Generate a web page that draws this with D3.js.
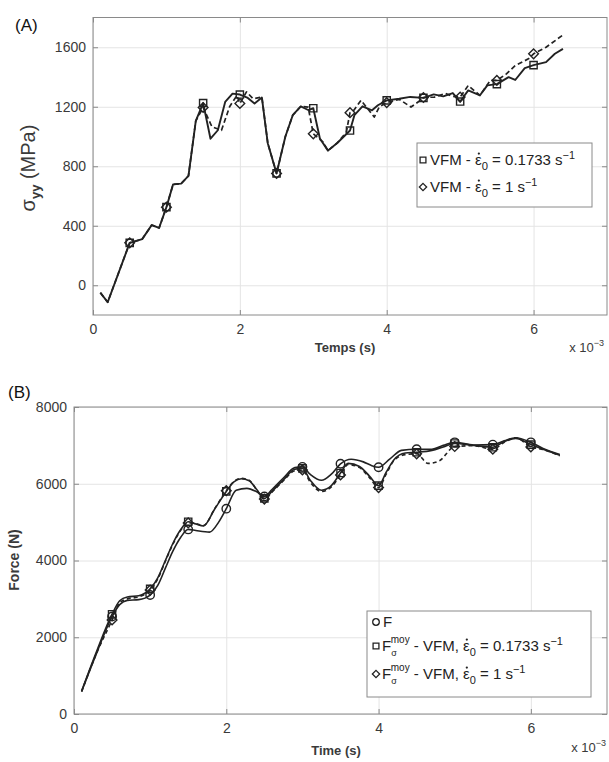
<!DOCTYPE html>
<html>
<head>
<meta charset="utf-8">
<script src="https://cdn.jsdelivr.net/npm/d3@7/dist/d3.min.js"></script>
<style>
  html, body { margin: 0; padding: 0; background: #fff; }
  svg { display: block; font-family: Arial, "Liberation Sans", Helvetica, sans-serif; }
</style>
</head>
<body>
<svg id="fig" width="609" height="762"></svg>
<script>
// ---- Panel A: stress sigma_yy (MPa) vs time (ms) ----
const timeA_slow = [0.1, 0.2, 0.5, 0.67, 0.8, 0.9, 1.0, 1.09, 1.2, 1.3, 1.4, 1.5, 1.6, 1.7, 1.8, 1.9, 2.0, 2.1, 2.2, 2.3, 2.38, 2.5, 2.62, 2.72, 2.83, 2.93, 3.0, 3.09, 3.2, 3.33, 3.5, 3.56, 3.67, 3.8, 3.88, 4.0, 4.17, 4.32, 4.5, 4.64, 4.77, 4.9, 5.0, 5.11, 5.27, 5.37, 5.5, 5.66, 5.75, 5.88, 6.0, 6.17, 6.29, 6.4];
const stressA_slow = [-50, -114, 285, 310, 405, 385, 525, 678, 683, 735, 1105, 1225, 985, 1042, 1232, 1288, 1282, 1262, 1222, 1262, 955, 752, 1000, 1143, 1203, 1178, 1190, 987, 905, 958, 1040, 1143, 1203, 1176, 1210, 1243, 1254, 1266, 1260, 1283, 1270, 1292, 1235, 1310, 1277, 1344, 1352, 1399, 1380, 1460, 1480, 1500, 1556, 1589];

const timeA_fast = [0.1, 0.2, 0.5, 0.67, 0.8, 0.9, 1.0, 1.09, 1.2, 1.3, 1.4, 1.5, 1.62, 1.75, 1.86, 1.96, 2.0, 2.09, 2.18, 2.3, 2.38, 2.5, 2.62, 2.72, 2.83, 2.93, 3.0, 3.13, 3.2, 3.33, 3.45, 3.5, 3.55, 3.65, 3.72, 3.83, 3.9, 4.0, 4.17, 4.33, 4.45, 4.5, 4.65, 4.8, 4.9, 5.0, 5.11, 5.27, 5.41, 5.5, 5.63, 5.75, 5.93, 6.0, 6.17, 6.39];
const stressA_fast = [-50, -114, 285, 310, 405, 385, 525, 678, 683, 735, 1105, 1195, 1065, 1042, 1200, 1276, 1222, 1300, 1254, 1265, 955, 752, 1000, 1143, 1203, 1198, 1018, 964, 905, 958, 1030, 1160, 1175, 1243, 1200, 1131, 1200, 1228, 1250, 1198, 1240, 1262, 1265, 1290, 1270, 1265, 1343, 1276, 1377, 1377, 1421, 1477, 1522, 1556, 1600, 1679];

const xTicksA = [0, 2, 4, 6];
const yTicksA = [0, 400, 800, 1200, 1600];

// ---- Panel B: force (N) vs time (ms) ----
const timeB_F = [0.1, 0.3, 0.5, 0.6, 0.7, 0.85, 1.0, 1.1, 1.2, 1.3, 1.4, 1.5, 1.6, 1.78, 1.9, 2.0, 2.13, 2.27, 2.4, 2.5, 2.6, 2.75, 2.9, 3.0, 3.1, 3.25, 3.38, 3.5, 3.64, 3.8, 3.9, 4.0, 4.15, 4.3, 4.5, 4.7, 4.85, 5.0, 5.25, 5.5, 5.65, 5.8, 6.0, 6.16, 6.38];
const forceB_F = [590, 1600, 2540, 2850, 2960, 2980, 3100, 3350, 3800, 4250, 4600, 4810, 4780, 4740, 5000, 5350, 5830, 5880, 5790, 5670, 5850, 6150, 6420, 6440, 6250, 6090, 6250, 6520, 6640, 6570, 6480, 6430, 6650, 6870, 6900, 6900, 7000, 7080, 7010, 7020, 7120, 7200, 7080, 6920, 6760];

const timeB_slow = [0.1, 0.3, 0.5, 0.6, 0.7, 0.85, 1.0, 1.1, 1.2, 1.3, 1.4, 1.5, 1.6, 1.7, 1.85, 2.0, 2.1, 2.2, 2.3, 2.4, 2.5, 2.6, 2.75, 2.9, 3.0, 3.1, 3.25, 3.38, 3.5, 3.6, 3.75, 3.88, 4.0, 4.1, 4.2, 4.35, 4.5, 4.7, 4.85, 5.0, 5.25, 5.5, 5.65, 5.8, 6.0, 6.16, 6.38];
const forceB_slow = [600, 1650, 2600, 2950, 3050, 3080, 3260, 3550, 4000, 4450, 4800, 5010, 4950, 4900, 5350, 5800, 6050, 6130, 6080, 5850, 5620, 5800, 6100, 6380, 6400, 6100, 5830, 5950, 6280, 6530, 6450, 6200, 5950, 6300, 6620, 6800, 6820, 6870, 6960, 7050, 7000, 6950, 7100, 7180, 7020, 6900, 6740];

const timeB_fast = [0.1, 0.3, 0.5, 0.6, 0.7, 0.85, 1.0, 1.1, 1.2, 1.3, 1.4, 1.5, 1.6, 1.7, 1.85, 2.0, 2.1, 2.2, 2.3, 2.4, 2.5, 2.6, 2.75, 2.9, 3.0, 3.1, 3.25, 3.38, 3.5, 3.6, 3.75, 3.88, 4.0, 4.1, 4.2, 4.35, 4.5, 4.65, 4.8, 5.0, 5.25, 5.5, 5.65, 5.8, 6.0, 6.16, 6.38];
const forceB_fast = [580, 1600, 2450, 2900, 3000, 3050, 3230, 3520, 3980, 4430, 4780, 4980, 4960, 4910, 5360, 5820, 6060, 6140, 6090, 5840, 5600, 5780, 6080, 6340, 6360, 6050, 5800, 5920, 6230, 6500, 6420, 6160, 5900, 6250, 6600, 6760, 6780, 6530, 6600, 6970, 6990, 6900, 7080, 7200, 6960, 6890, 6730];

const xTicksB = [0, 2, 4, 6];
const yTicksB = [0, 2000, 4000, 6000, 8000];

const ink = "#222";
const svg = d3.select("#fig");

// marker symbols drawn every 0.5 ms along each curve
const markerShapes = {
  square: d3.symbol().type(d3.symbolSquare).size(52),
  diamond: d3.symbol().type(d3.symbolDiamond2).size(60),
  circle: d3.symbol().type(d3.symbolCircle).size(56)
};

function isMarkerTime(t) {
  return Math.abs(t * 2 - Math.round(t * 2)) < 1e-6;
}

function drawPanel(p) {
  const x = d3.scaleLinear().domain(p.xDomain).range([p.left, p.right]);
  const y = d3.scaleLinear().domain(p.yDomain).range([p.bottom, p.top]);
  const g = svg.append("g");
  const w = p.right - p.left, h = p.bottom - p.top;

  // grid
  g.append("g").attr("transform", `translate(0,${p.bottom})`)
    .call(d3.axisBottom(x).tickValues(p.xTicks).tickSize(-h).tickFormat(""))
    .call(s => s.select(".domain").remove())
    .call(s => s.selectAll("line").attr("stroke", "#e4e4e4").attr("stroke-width", 1));
  g.append("g").attr("transform", `translate(${p.left},0)`)
    .call(d3.axisLeft(y).tickValues(p.yTicks).tickSize(-w).tickFormat(""))
    .call(s => s.select(".domain").remove())
    .call(s => s.selectAll("line").attr("stroke", "#e4e4e4").attr("stroke-width", 1));

  // frame
  g.append("rect").attr("x", p.left).attr("y", p.top).attr("width", w).attr("height", h)
    .attr("fill", "none").attr("stroke", "#8a8a8a").attr("stroke-width", 1);

  // inward tick marks on all four sides
  const tickStyle = s => {
    s.select(".domain").remove();
    s.selectAll("line").attr("stroke", "#8a8a8a");
  };
  g.append("g").attr("transform", `translate(0,${p.bottom})`)
    .call(d3.axisBottom(x).tickValues(p.xTicks).tickSizeInner(-5).tickSizeOuter(0).tickFormat(""))
    .call(tickStyle);
  g.append("g").attr("transform", `translate(0,${p.top})`)
    .call(d3.axisTop(x).tickValues(p.xTicks).tickSizeInner(-5).tickSizeOuter(0).tickFormat(""))
    .call(tickStyle);
  g.append("g").attr("transform", `translate(${p.left},0)`)
    .call(d3.axisLeft(y).tickValues(p.yTicks).tickSizeInner(-5).tickSizeOuter(0).tickFormat(""))
    .call(tickStyle);
  g.append("g").attr("transform", `translate(${p.right},0)`)
    .call(d3.axisRight(y).tickValues(p.yTicks).tickSizeInner(-5).tickSizeOuter(0).tickFormat(""))
    .call(tickStyle);

  // tick labels
  const labelStyle = s => {
    s.select(".domain").remove();
    s.selectAll("line").remove();
    s.selectAll("text").attr("fill", "#3a3a3a").attr("font-size", p.tickFont)
      .attr("font-family", "Arial, 'Liberation Sans', sans-serif");
  };
  g.append("g").attr("transform", `translate(0,${p.bottom})`)
    .call(d3.axisBottom(x).tickValues(p.xTicks).tickSize(0).tickPadding(p.xPad).tickFormat(d3.format("d")))
    .call(labelStyle);
  g.append("g").attr("transform", `translate(${p.left},0)`)
    .call(d3.axisLeft(y).tickValues(p.yTicks).tickSize(0).tickPadding(p.yPad).tickFormat(d3.format("d")))
    .call(labelStyle);

  // curves
  p.series.forEach(sr => {
    const pts = sr.t.map((t, i) => [t, sr.v[i]]);
    const line = d3.line().x(d => x(d[0])).y(d => y(d[1])).curve(p.curve);
    g.append("path").datum(pts).attr("d", line)
      .attr("fill", "none").attr("stroke", ink).attr("stroke-width", sr.width)
      .attr("stroke-linejoin", "round")
      .attr("stroke-dasharray", sr.dash || null);
    g.selectAll(null).data(pts.filter(d => isMarkerTime(d[0]) && d[0] > 0.2))
      .join("path")
      .attr("d", markerShapes[sr.marker])
      .attr("transform", d => `translate(${x(d[0])},${y(d[1])})`)
      .attr("fill", "none").attr("stroke", ink).attr("stroke-width", 1.4);
  });

  // x 10^-3 exponent label
  const ex = g.append("text").attr("x", p.expX).attr("y", p.expY)
    .attr("fill", "#3a3a3a").attr("font-size", 13).attr("text-anchor", "end");
  ex.append("tspan").text("x 10");
  ex.append("tspan").attr("dy", -6).attr("font-size", 9).text("\u22123");

  return { x, y, g };
}

// strain-rate symbol: epsilon with a dot placed over it
function dotOver(textSel, charIndex, size) {
  const box = textSel.node().getExtentOfChar(charIndex);
  textSel.node().parentNode.appendChild(
    d3.create("svg:circle")
      .attr("cx", box.x + box.width / 2 + 0.5)
      .attr("cy", box.y + box.height * 0.26 - size * 0.12)
      .attr("r", Math.max(1, size * 0.075))
      .attr("fill", ink).node());
}

// ---------- Panel A ----------
drawPanel({
  left: 93, right: 607, top: 17.5, bottom: 315,
  xDomain: [0, 7], yDomain: [-200, 1800],
  xTicks: xTicksA, yTicks: yTicksA,
  tickFont: 14, xPad: 9, yPad: 7,
  curve: d3.curveLinear,
  expX: 604, expY: 352,
  series: [
    { t: timeA_slow, v: stressA_slow, marker: "square", width: 1.9 },
    { t: timeA_fast, v: stressA_fast, marker: "diamond", width: 1.7, dash: "5,3" }
  ]
});

svg.append("text").attr("x", 15).attr("y", 31).attr("font-size", 17).attr("fill", "#111").text("(A)");
svg.append("text").attr("x", 345).attr("y", 352).attr("font-size", 13).attr("font-weight", "bold")
  .attr("fill", "#3a3a3a").attr("text-anchor", "middle").text("Temps (s)");

const yLabA = svg.append("text").attr("transform", "translate(35,168) rotate(-90)")
  .attr("text-anchor", "middle").attr("font-size", 20).attr("fill", "#3a3a3a");
yLabA.append("tspan").text("\u03C3");
yLabA.append("tspan").attr("dy", 5).attr("font-size", 13).attr("font-weight", "bold").text("yy");
yLabA.append("tspan").attr("dy", -5).text(" (MPa)");

// legend A
const legA = svg.append("g");
legA.append("rect").attr("x", 417).attr("y", 143).attr("width", 175).attr("height", 64)
  .attr("fill", "#fff").attr("stroke", "#8a8a8a");
function rateLabel(parent, x, y, pre, rate, size) {
  const t = parent.append("text").attr("x", x).attr("y", y).attr("font-size", size).attr("fill", ink);
  t.append("tspan").text(pre);
  t.append("tspan").text("\u03B5");
  t.append("tspan").attr("dy", 5).attr("font-size", size * 0.75).text("0");
  t.append("tspan").attr("dy", -5).text(` = ${rate} s`);
  t.append("tspan").attr("dy", -6).attr("font-size", size * 0.72).text("\u22121");
  dotOver(t, pre.length, size);
  return t;
}
const legendMarker = d3.symbol().size(34);
legA.append("path").attr("d", legendMarker.type(d3.symbolSquare)()).attr("transform", "translate(423,160)")
  .attr("fill", "none").attr("stroke", ink).attr("stroke-width", 1.3);
rateLabel(legA, 430, 165, "VFM - ", "0.1733", 15);
legA.append("path").attr("d", legendMarker.type(d3.symbolDiamond2)()).attr("transform", "translate(423,187)")
  .attr("fill", "none").attr("stroke", ink).attr("stroke-width", 1.3);
rateLabel(legA, 430, 192, "VFM - ", "1", 15);

// ---------- Panel B ----------
drawPanel({
  left: 74, right: 607, top: 407, bottom: 714,
  xDomain: [0, 7], yDomain: [0, 8000],
  xTicks: xTicksB, yTicks: yTicksB,
  tickFont: 14, xPad: 9, yPad: 7,
  curve: d3.curveMonotoneX,
  expX: 606, expY: 752,
  series: [
    { t: timeB_F, v: forceB_F, marker: "circle", width: 1.6 },
    { t: timeB_slow, v: forceB_slow, marker: "square", width: 1.6 },
    { t: timeB_fast, v: forceB_fast, marker: "diamond", width: 1.6, dash: "4,3" }
  ]
});

svg.append("text").attr("x", 8).attr("y", 398).attr("font-size", 17).attr("fill", "#111").text("(B)");
svg.append("text").attr("x", 336).attr("y", 755).attr("font-size", 13).attr("font-weight", "bold")
  .attr("fill", "#3a3a3a").attr("text-anchor", "middle").text("Time (s)");
svg.append("text").attr("transform", "translate(19,560) rotate(-90)")
  .attr("text-anchor", "middle").attr("font-size", 14).attr("font-weight", "bold")
  .attr("fill", "#3a3a3a").text("Force (N)");

// legend B
const legB = svg.append("g");
legB.append("rect").attr("x", 367).attr("y", 611).attr("width", 224).attr("height", 86)
  .attr("fill", "#fff").attr("stroke", "#8a8a8a");
legB.append("path").attr("d", legendMarker.type(d3.symbolCircle)()).attr("transform", "translate(376,622)")
  .attr("fill", "none").attr("stroke", ink).attr("stroke-width", 1.3);
legB.append("text").attr("x", 383).attr("y", 627).attr("font-size", 15).attr("fill", ink).text("F");

function forceLabel(y, rate) {
  const t = legB.append("text").attr("x", 382).attr("y", y).attr("font-size", 15).attr("fill", ink);
  t.append("tspan").text("F");
  t.append("tspan").attr("dy", 5).attr("font-size", 9).text("\u03C3");
  t.append("tspan").attr("dx", -6).attr("dy", -13).attr("font-size", 10).text("moy");
  const pre = " - VFM, ";
  t.append("tspan").attr("dy", 8).text(pre);
  t.append("tspan").text("\u03B5");
  t.append("tspan").attr("dy", 5).attr("font-size", 11).text("0");
  t.append("tspan").attr("dy", -5).text(` = ${rate} s`);
  t.append("tspan").attr("dy", -6).attr("font-size", 11).text("\u22121");
  dotOver(t, 1 + 1 + 3 + pre.length, 15);
}
legB.append("path").attr("d", legendMarker.type(d3.symbolSquare)()).attr("transform", "translate(376,646)")
  .attr("fill", "none").attr("stroke", ink).attr("stroke-width", 1.3);
forceLabel(651, "0.1733");
legB.append("path").attr("d", legendMarker.type(d3.symbolDiamond2)()).attr("transform", "translate(376,674)")
  .attr("fill", "none").attr("stroke", ink).attr("stroke-width", 1.3);
forceLabel(679, "1");
</script>
</body>
</html>
